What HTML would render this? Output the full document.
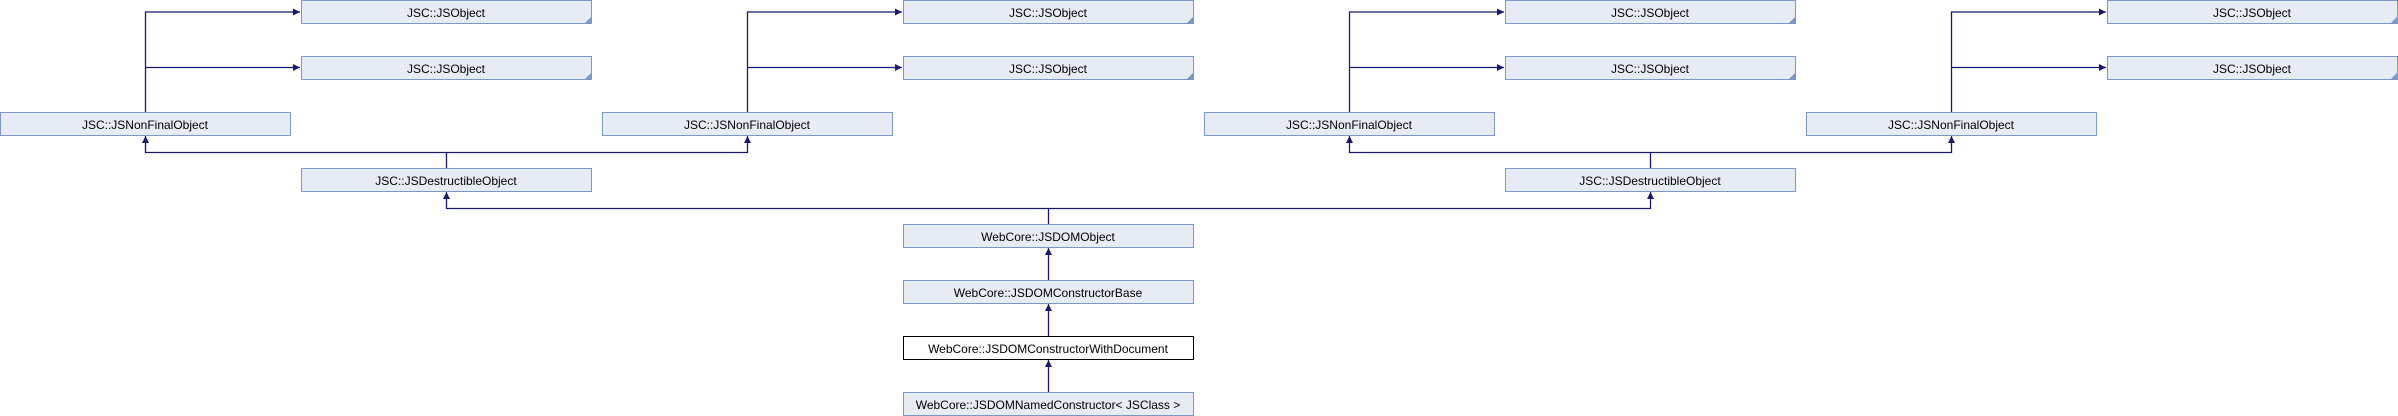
<!DOCTYPE html>
<html><head><meta charset="utf-8"><style>
html,body{margin:0;padding:0;background:#fff;}
svg{display:block;}
text{font-family:"Liberation Sans",Arial,sans-serif;font-size:12px;fill:#000;}
</style></head><body>
<svg width="2398" height="416" viewBox="0 0 2398 416" xmlns="http://www.w3.org/2000/svg">
<defs>
<marker id="a" markerWidth="8" markerHeight="8" refX="7" refY="3.5" orient="auto" markerUnits="userSpaceOnUse">
<path d="M0,0 L7,3.5 L0,7 z" fill="#191970"/>
</marker>
</defs>
<g fill="none" stroke="#191970" stroke-width="1.3">
<path d="M145.5,112 V12 H300" marker-end="url(#a)"/>
<path d="M145.5,67.5 H300" marker-end="url(#a)"/>
<path d="M747.5,112 V12 H902" marker-end="url(#a)"/>
<path d="M747.5,67.5 H902" marker-end="url(#a)"/>
<path d="M1349.5,112 V12 H1504" marker-end="url(#a)"/>
<path d="M1349.5,67.5 H1504" marker-end="url(#a)"/>
<path d="M1951.5,112 V12 H2106" marker-end="url(#a)"/>
<path d="M1951.5,67.5 H2106" marker-end="url(#a)"/>
<path d="M446.5,168 V152.5 H145.5 V136" marker-end="url(#a)"/>
<path d="M446.5,152.5 H747.5 V136" marker-end="url(#a)"/>
<path d="M1650.5,168 V152.5 H1349.5 V136" marker-end="url(#a)"/>
<path d="M1650.5,152.5 H1951.5 V136" marker-end="url(#a)"/>
<path d="M1048.5,224 V208.5 H446.5 V192" marker-end="url(#a)"/>
<path d="M1048.5,208.5 H1650.5 V192" marker-end="url(#a)"/>
<path d="M1048.5,280 V248" marker-end="url(#a)"/>
<path d="M1048.5,336 V304" marker-end="url(#a)"/>
<path d="M1048.5,392 V360" marker-end="url(#a)"/>
</g>
<g stroke="#7b96c8" stroke-width="1" fill="#e6ebf4">
<rect x="301.5" y="0.5" width="290" height="23"/>
<rect x="301.5" y="56.5" width="290" height="23"/>
<rect x="903.5" y="0.5" width="290" height="23"/>
<rect x="903.5" y="56.5" width="290" height="23"/>
<rect x="1505.5" y="0.5" width="290" height="23"/>
<rect x="1505.5" y="56.5" width="290" height="23"/>
<rect x="2107.5" y="0.5" width="290" height="23"/>
<rect x="2107.5" y="56.5" width="290" height="23"/>
<rect x="0.5" y="112.5" width="290" height="23"/>
<rect x="602.5" y="112.5" width="290" height="23"/>
<rect x="1204.5" y="112.5" width="290" height="23"/>
<rect x="1806.5" y="112.5" width="290" height="23"/>
<rect x="301.5" y="168.5" width="290" height="23"/>
<rect x="1505.5" y="168.5" width="290" height="23"/>
<rect x="903.5" y="224.5" width="290" height="23"/>
<rect x="903.5" y="280.5" width="290" height="23"/>
<rect x="903.5" y="392.5" width="290" height="23"/>
</g>
<rect x="903.5" y="336.5" width="290" height="23" fill="#fff" stroke="#000"/>
<g fill="#7b96c8">
<path d="M591,17 V23 H585 z"/><path d="M591,73 V79 H585 z"/>
<path d="M1193,17 V23 H1187 z"/><path d="M1193,73 V79 H1187 z"/>
<path d="M1795,17 V23 H1789 z"/><path d="M1795,73 V79 H1789 z"/>
<path d="M2397,17 V23 H2391 z"/><path d="M2397,73 V79 H2391 z"/>
</g>
<g text-anchor="middle">
<text x="446" y="17">JSC::JSObject</text>
<text x="446" y="73">JSC::JSObject</text>
<text x="1048" y="17">JSC::JSObject</text>
<text x="1048" y="73">JSC::JSObject</text>
<text x="1650" y="17">JSC::JSObject</text>
<text x="1650" y="73">JSC::JSObject</text>
<text x="2252" y="17">JSC::JSObject</text>
<text x="2252" y="73">JSC::JSObject</text>
<text x="145" y="129">JSC::JSNonFinalObject</text>
<text x="747" y="129">JSC::JSNonFinalObject</text>
<text x="1349" y="129">JSC::JSNonFinalObject</text>
<text x="1951" y="129">JSC::JSNonFinalObject</text>
<text x="446" y="185">JSC::JSDestructibleObject</text>
<text x="1650" y="185">JSC::JSDestructibleObject</text>
<text x="1048" y="241">WebCore::JSDOMObject</text>
<text x="1048" y="297">WebCore::JSDOMConstructorBase</text>
<text x="1048" y="353">WebCore::JSDOMConstructorWithDocument</text>
<text x="1048" y="409">WebCore::JSDOMNamedConstructor&lt; JSClass &gt;</text>
</g>
</svg>
</body></html>
